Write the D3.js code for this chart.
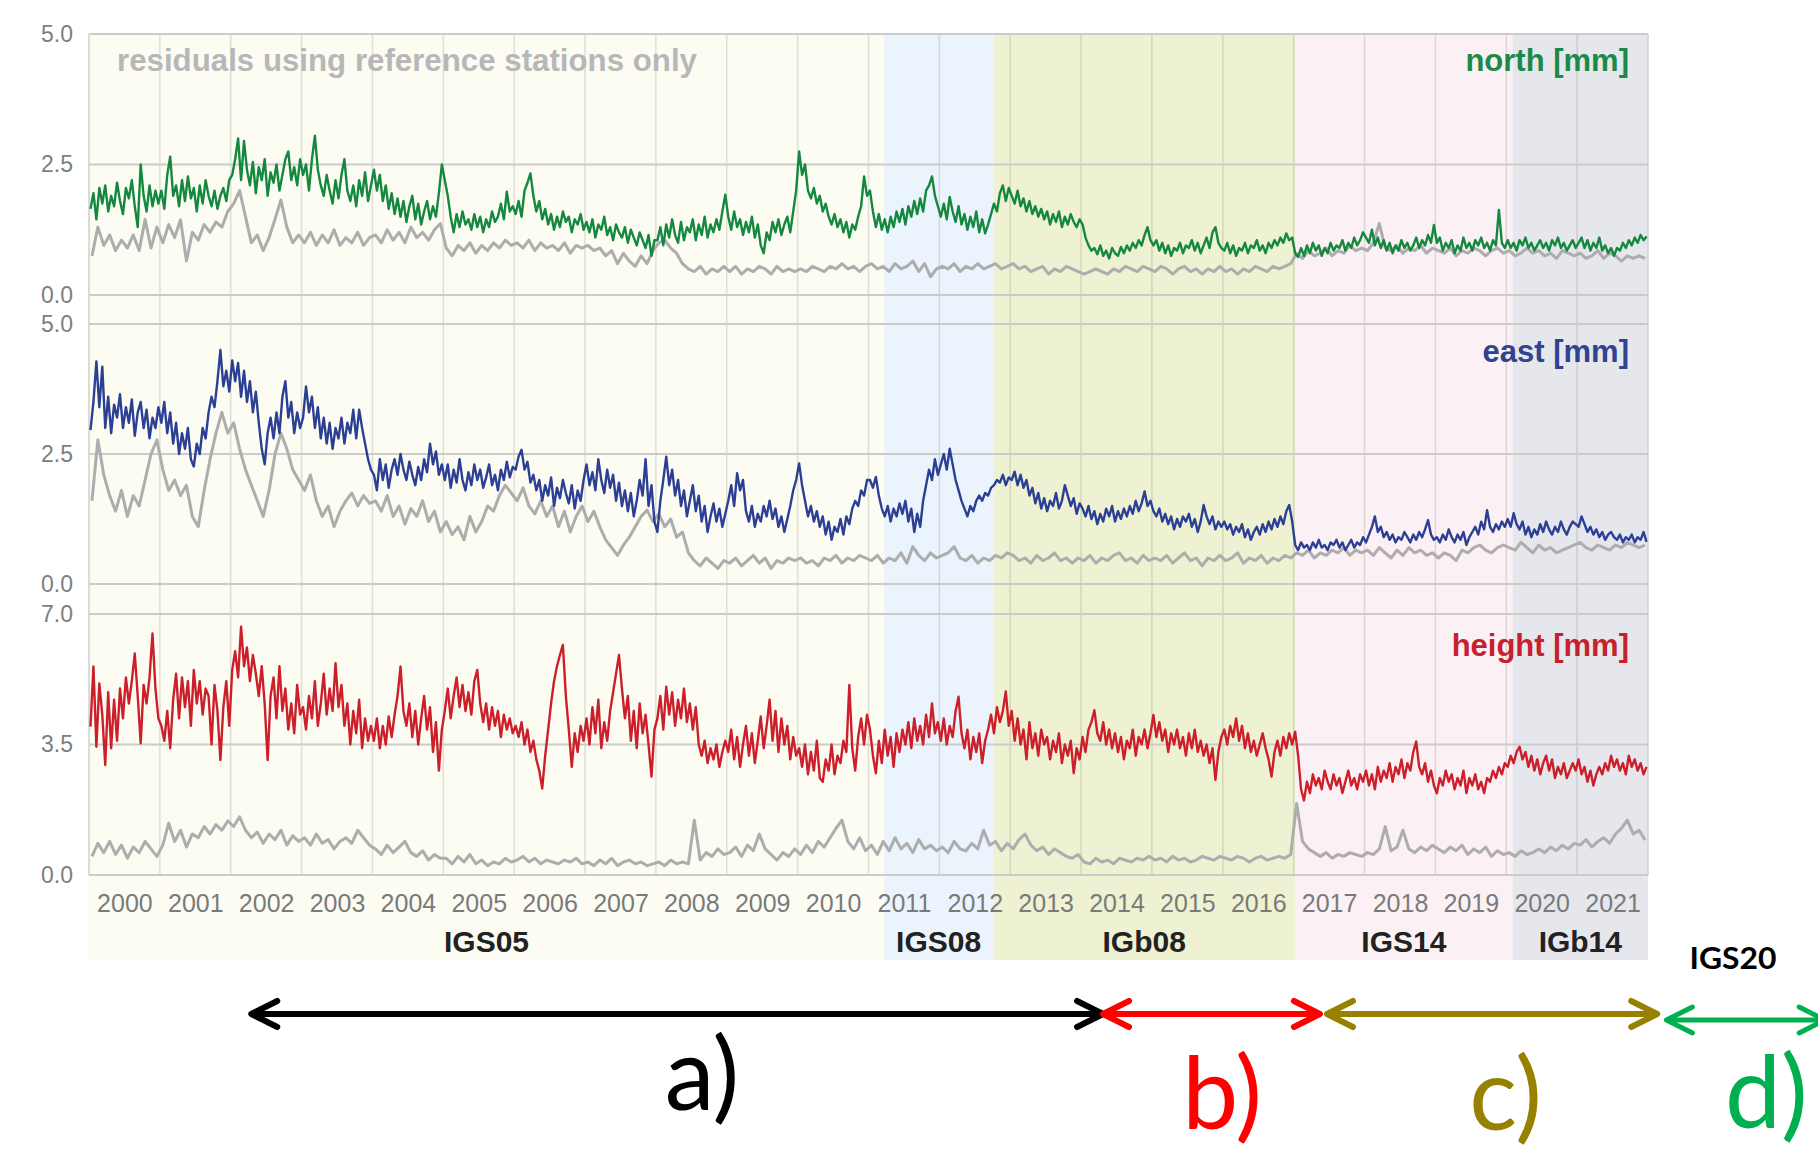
<!DOCTYPE html>
<html>
<head>
<meta charset="utf-8">
<script src="https://cdn.jsdelivr.net/npm/d3@7"></script>
<style>
  html, body { margin: 0; padding: 0; background: #ffffff; }
  svg { display: block; }
</style>
</head>
<body>
<svg id="chart" width="1818" height="1167"></svg>
<script>
// ---------------------------------------------------------------
// Weekly RMS residuals of the regional solution, 2000 – 2021,
// resampled: coloured series every half month, reference-only
// series (grey) every month. Values in mm.
// ---------------------------------------------------------------

const yearLabels = ["2000","2001","2002","2003","2004","2005","2006","2007","2008","2009","2010",
                    "2011","2012","2013","2014","2015","2016","2017","2018","2019","2020","2021"];

const frameNames = ["IGS05", "IGS08", "IGb08", "IGS14", "IGb14"];
const frameStart = [2000.00, 2011.22, 2012.76, 2017.02, 2020.09];
const frameEnd   = [2011.22, 2012.76, 2017.02, 2020.09, 2022.00];

const northTicks  = [0, 2.5, 5];
const eastTicks   = [0, 2.5, 5];
const heightTicks = [0, 3.5, 7];

// north, all stations (24 per year)
const northAll = [
  1.65,1.95,1.45,2.05,1.75,2.1,1.6,1.9,1.7,2.15,1.8,1.55,2.05,1.85,2.2,1.7,1.3,2.5,1.9,1.6,2.1,1.7,2.0,1.75,
  2.0,1.65,2.3,2.65,1.9,2.1,1.7,2.2,1.8,2.27,1.85,2.05,1.6,2.1,1.75,2.2,1.9,1.7,2.0,1.65,1.9,2.05,1.8,2.2,
  2.3,2.6,3.0,2.2,2.95,2.4,2.1,2.55,1.95,2.45,2.2,2.6,1.9,2.35,2.15,2.5,2.0,2.3,2.6,2.75,2.2,2.45,2.1,2.6,
  2.3,2.5,2.0,2.6,3.05,2.4,2.1,1.9,2.3,2.0,1.75,2.2,1.85,2.3,2.6,2.0,1.8,2.1,1.7,2.2,1.9,2.35,1.8,2.1,
  2.4,2.0,2.3,1.8,2.1,1.65,1.95,1.55,1.85,1.5,1.8,1.4,1.7,1.9,1.45,1.75,1.35,1.6,1.8,1.45,1.7,1.5,1.95,2.5,
  2.2,1.9,1.5,1.2,1.55,1.3,1.6,1.35,1.45,1.25,1.55,1.3,1.5,1.2,1.45,1.3,1.6,1.4,1.5,1.75,1.45,1.98,1.6,1.7,
  1.55,1.8,1.5,2.0,2.15,2.33,1.9,1.6,1.8,1.45,1.65,1.35,1.55,1.25,1.5,1.3,1.6,1.4,1.5,1.2,1.45,1.35,1.55,1.25,
  1.4,1.2,1.45,1.1,1.35,1.25,1.5,1.15,1.3,1.05,1.35,1.2,1.1,1.3,1.0,1.25,1.1,0.95,1.2,1.05,0.9,1.15,0.75,1.05,
  1.05,1.3,0.95,1.35,1.1,1.45,1.15,1.0,1.4,1.05,1.3,1.2,1.45,1.05,1.35,1.15,1.5,1.1,1.35,1.2,1.45,1.25,1.6,1.92,
  1.5,1.25,1.6,1.3,1.45,1.15,1.4,1.2,1.5,1.1,1.35,0.95,0.8,1.2,1.05,1.4,1.2,1.45,1.15,1.35,1.5,1.2,1.6,2.0,
  2.75,2.3,2.5,2.0,1.85,2.05,1.75,1.9,1.6,1.75,1.5,1.35,1.55,1.3,1.45,1.2,1.4,1.1,1.35,1.25,1.5,1.7,2.27,1.9,
  2.0,1.6,1.3,1.55,1.25,1.45,1.2,1.5,1.3,1.6,1.4,1.65,1.35,1.7,1.5,1.8,1.55,1.85,1.6,2.0,2.1,2.27,1.9,1.7,
  1.5,1.75,1.45,1.88,1.6,1.4,1.7,1.35,1.55,1.25,1.5,1.3,1.6,1.2,1.45,1.18,1.35,1.55,1.75,1.6,1.95,2.1,1.8,2.05,
  1.9,1.75,2.0,1.7,1.85,1.6,1.8,1.55,1.7,1.5,1.65,1.45,1.6,1.35,1.55,1.4,1.6,1.3,1.5,1.35,1.55,1.4,1.3,1.45,
  1.35,1.1,0.95,0.85,0.9,0.78,0.95,0.75,0.85,0.7,0.9,0.8,0.75,0.92,0.8,0.95,0.85,1.0,0.9,1.05,0.95,1.15,1.3,1.05,
  0.95,1.05,0.85,1.0,0.8,0.95,0.75,0.9,0.85,1.0,0.8,0.95,0.9,1.05,0.85,1.0,0.8,0.95,1.1,0.9,1.2,1.3,1.0,0.9,
  0.85,1.0,0.8,0.95,0.75,0.9,0.85,1.0,0.8,0.95,0.9,1.05,0.85,0.95,0.8,1.0,0.9,1.05,0.95,1.1,1.0,1.18,1.05,1.1,
  0.8,0.73,0.9,0.75,0.95,0.8,1.0,0.85,0.95,0.75,0.9,0.8,1.0,0.85,0.95,0.9,1.05,0.85,1.0,0.9,1.1,0.95,1.05,1.2,
  1.1,1.0,1.25,0.95,1.1,0.9,1.05,0.85,1.0,0.8,0.95,0.85,1.05,0.9,1.0,0.85,0.95,1.1,0.9,1.05,0.95,1.15,1.0,1.34,
  1.0,1.1,0.85,1.0,0.9,1.05,0.8,0.95,0.85,1.1,0.9,1.0,0.85,1.05,0.95,1.1,0.9,1.0,0.85,1.05,0.95,1.63,1.0,0.9,
  1.05,0.9,1.0,0.85,1.05,0.95,1.1,0.9,1.0,0.85,0.95,1.05,0.9,1.0,0.85,1.05,0.95,1.1,0.9,1.0,0.85,0.95,1.05,0.9,
  1.0,1.1,0.9,1.05,0.85,1.0,0.9,1.1,0.85,0.95,0.8,0.9,0.75,0.9,0.85,1.0,0.9,1.05,0.95,1.1,1.0,1.15,1.05,1.12
];

// north, reference stations only (12 per year)
const northRef = [
  0.75,1.3,0.95,1.15,0.85,1.05,0.9,1.15,0.85,1.45,0.9,1.3,
  1.0,1.35,1.1,1.44,0.65,1.2,1.05,1.35,1.2,1.4,1.3,1.6,
  1.75,2.0,1.5,1.0,1.15,0.85,1.1,1.45,1.82,1.3,1.0,1.15,
  1.0,1.2,0.95,1.15,1.0,1.25,0.95,1.1,1.0,1.2,0.95,1.1,
  1.15,1.0,1.25,1.05,1.2,1.0,1.3,1.1,1.2,1.05,1.25,1.37,
  0.9,0.75,0.95,0.85,1.0,0.8,0.95,0.85,1.0,0.9,1.05,0.95,
  1.0,0.9,1.05,0.85,1.0,0.9,0.95,0.85,1.0,0.8,0.95,0.9,
  0.95,0.85,0.9,0.75,0.85,0.6,0.8,0.65,0.55,0.75,0.6,0.85,
  1.0,1.05,0.9,0.8,0.6,0.5,0.45,0.55,0.4,0.5,0.45,0.55,
  0.45,0.55,0.4,0.5,0.45,0.55,0.5,0.4,0.55,0.45,0.5,0.45,
  0.5,0.45,0.55,0.5,0.45,0.55,0.5,0.6,0.5,0.55,0.45,0.55,
  0.6,0.5,0.55,0.45,0.6,0.5,0.55,0.65,0.45,0.6,0.35,0.5,
  0.55,0.5,0.6,0.45,0.55,0.5,0.6,0.5,0.55,0.6,0.5,0.55,
  0.6,0.5,0.55,0.45,0.5,0.55,0.4,0.5,0.45,0.55,0.5,0.45,
  0.4,0.45,0.5,0.45,0.4,0.5,0.45,0.55,0.5,0.45,0.55,0.5,
  0.45,0.55,0.5,0.4,0.5,0.55,0.45,0.5,0.4,0.5,0.45,0.55,
  0.45,0.5,0.4,0.5,0.45,0.55,0.5,0.45,0.55,0.5,0.55,0.6,
  0.8,0.7,0.85,0.75,0.8,0.9,0.75,0.85,0.8,0.95,0.85,0.9,
  0.85,1.0,1.37,0.9,0.85,0.95,0.8,0.9,0.85,0.95,0.8,0.9,
  0.85,0.8,0.9,0.75,0.85,0.8,0.9,0.85,0.75,0.85,0.9,0.8,
  0.85,0.75,0.8,0.9,0.8,0.85,0.75,0.8,0.7,0.85,0.8,0.75,
  0.8,0.7,0.75,0.85,0.7,0.8,0.75,0.65,0.75,0.7,0.75,0.7
];

// east, all stations (24 per year)
const eastAll = [
  2.96,3.5,4.28,3.4,4.18,3.0,3.6,2.9,3.45,3.2,3.65,3.0,3.4,3.1,3.55,2.85,3.3,3.5,3.0,3.35,2.8,3.2,3.0,3.4,
  3.1,3.5,2.9,3.3,2.7,3.1,2.5,2.9,2.6,3.0,2.4,2.26,2.7,2.5,3.0,2.8,3.3,3.6,3.4,3.9,4.5,3.8,4.1,3.7,
  4.3,3.9,4.25,3.6,4.1,3.5,3.9,3.3,3.7,3.1,2.6,2.3,2.9,3.2,2.8,3.3,2.9,3.6,3.9,3.2,3.5,2.9,3.3,3.0,
  3.2,3.8,3.3,3.6,3.0,3.4,2.8,3.2,2.7,3.1,2.6,3.0,2.8,3.2,2.7,3.1,2.9,3.35,2.8,3.35,3.0,2.7,2.4,2.2,
  2.1,1.8,2.4,2.0,2.3,1.85,2.2,2.4,2.1,2.5,2.2,2.0,2.35,2.1,1.9,2.25,2.0,2.4,2.15,2.7,2.3,2.55,2.1,2.3,
  2.0,2.3,1.85,2.2,1.95,2.4,2.0,1.8,2.15,1.9,2.3,2.0,2.2,1.85,2.05,2.3,1.9,2.1,1.8,2.2,2.0,2.35,2.05,2.25,
  2.2,2.45,2.58,2.2,2.35,1.95,2.1,1.8,2.0,1.6,1.9,1.7,2.05,1.5,1.85,1.65,2.0,1.75,1.55,1.9,1.45,1.8,1.6,2.0,
  2.3,1.9,2.15,1.8,2.4,2.0,1.75,2.2,1.85,2.1,1.6,1.95,1.5,1.8,1.4,1.75,1.3,1.6,2.0,1.7,2.4,1.5,1.9,1.2,
  1.0,1.6,2.0,2.45,1.9,2.2,1.7,2.0,1.5,1.8,1.3,1.6,1.9,1.4,1.7,1.2,1.5,1.0,1.3,1.55,1.2,1.45,1.1,1.35,
  1.6,1.9,1.5,2.13,1.8,2.0,1.4,1.2,1.5,1.1,1.35,1.2,1.5,1.3,1.6,1.25,1.45,1.1,1.3,1.0,1.25,1.5,1.8,2.0,
  2.32,1.9,1.6,1.3,1.5,1.2,1.4,1.1,1.3,0.95,1.2,0.85,1.1,1.0,1.25,0.95,1.3,1.15,1.45,1.6,1.5,1.8,1.7,2.0,
  2.0,1.85,2.06,1.7,1.45,1.3,1.5,1.2,1.45,1.3,1.55,1.35,1.6,1.2,1.45,1.0,1.35,1.1,1.6,1.9,2.2,2.0,2.4,2.1,
  2.3,2.5,2.2,2.6,2.3,2.0,1.8,1.6,1.45,1.3,1.5,1.4,1.6,1.7,1.6,1.75,1.7,1.85,1.9,2.0,1.95,2.1,1.9,2.05,
  2.0,2.16,1.9,2.1,1.85,2.0,1.7,1.85,1.55,1.75,1.45,1.65,1.4,1.6,1.5,1.75,1.45,1.6,1.9,1.7,1.5,1.65,1.35,1.55,
  1.45,1.3,1.5,1.25,1.4,1.15,1.35,1.2,1.45,1.3,1.5,1.2,1.4,1.25,1.45,1.3,1.5,1.35,1.6,1.4,1.55,1.78,1.5,1.6,
  1.4,1.3,1.45,1.2,1.35,1.15,1.3,1.05,1.25,1.1,1.3,1.2,1.35,1.1,1.25,1.0,1.2,1.52,1.3,1.15,1.3,1.05,1.2,1.1,
  1.2,1.05,1.15,0.95,1.1,1.0,1.15,0.9,1.05,0.85,1.0,1.1,0.95,1.15,1.0,1.2,1.05,1.25,1.1,1.3,1.15,1.4,1.52,1.2,
  0.75,0.65,0.8,0.7,0.75,0.65,0.8,0.7,0.85,0.7,0.75,0.65,0.8,0.75,0.85,0.7,0.8,0.65,0.75,0.85,0.7,0.8,0.75,0.9,
  0.8,0.95,1.1,1.3,1.0,1.1,0.9,1.0,0.85,0.95,0.8,0.9,0.85,1.0,0.9,0.8,0.95,0.85,1.0,0.9,1.05,1.23,0.95,0.85,
  0.9,0.8,0.95,0.85,1.05,0.9,0.8,0.95,0.85,1.0,0.75,0.9,1.0,1.1,0.95,1.2,1.05,1.42,1.1,1.0,1.15,1.05,1.2,1.1,
  1.25,1.1,1.36,1.15,1.05,1.2,0.95,1.1,0.9,1.05,0.95,1.15,1.0,1.2,1.05,0.95,1.1,1.0,1.2,1.05,0.95,1.1,1.2,1.15,
  1.1,1.3,1.15,1.0,1.1,0.95,1.05,0.9,1.0,0.85,0.95,1.0,0.9,0.85,0.95,0.8,0.9,0.85,0.95,0.8,0.9,0.85,1.0,0.81
];

// east, reference stations only (12 per year)
const eastRef = [
  1.6,2.77,2.1,1.7,1.4,1.8,1.3,1.7,1.5,2.0,2.5,2.77,
  2.2,1.8,2.0,1.7,1.9,1.3,1.1,1.8,2.4,2.9,3.3,2.9,
  3.1,2.6,2.2,1.9,1.6,1.3,1.8,2.5,2.9,2.6,2.2,2.0,
  1.8,2.1,1.6,1.3,1.5,1.1,1.4,1.6,1.75,1.5,1.7,1.55,
  1.6,1.4,1.7,1.3,1.5,1.15,1.45,1.3,1.6,1.2,1.4,1.0,
  1.2,0.95,1.1,0.85,1.3,1.0,1.2,1.5,1.4,1.7,1.9,1.75,
  1.6,1.85,1.5,1.35,1.6,1.3,1.5,1.1,1.4,1.0,1.3,1.5,
  1.2,1.4,1.1,0.85,0.7,0.55,0.75,0.9,1.1,1.3,1.42,1.2,
  1.35,1.1,1.25,0.9,1.0,0.6,0.45,0.35,0.5,0.4,0.3,0.45,
  0.4,0.5,0.35,0.45,0.55,0.4,0.5,0.3,0.45,0.4,0.5,0.45,
  0.5,0.4,0.45,0.35,0.5,0.45,0.55,0.4,0.5,0.45,0.55,0.5,
  0.45,0.55,0.4,0.5,0.45,0.6,0.4,0.72,0.55,0.45,0.6,0.5,
  0.55,0.6,0.72,0.5,0.45,0.55,0.4,0.5,0.45,0.55,0.5,0.6,
  0.55,0.45,0.5,0.4,0.55,0.45,0.5,0.6,0.45,0.5,0.4,0.5,
  0.45,0.55,0.4,0.5,0.45,0.55,0.6,0.45,0.5,0.4,0.55,0.45,
  0.5,0.45,0.55,0.4,0.5,0.6,0.45,0.5,0.35,0.5,0.45,0.55,
  0.45,0.5,0.6,0.4,0.5,0.45,0.55,0.4,0.5,0.45,0.55,0.5,
  0.6,0.55,0.65,0.5,0.6,0.55,0.65,0.6,0.7,0.55,0.65,0.6,
  0.65,0.55,0.7,0.6,0.5,0.65,0.55,0.7,0.6,0.65,0.55,0.6,
  0.5,0.6,0.55,0.45,0.65,0.6,0.7,0.75,0.65,0.6,0.7,0.75,
  0.7,0.65,0.8,0.7,0.6,0.75,0.65,0.7,0.6,0.65,0.7,0.75,
  0.8,0.7,0.65,0.75,0.7,0.65,0.75,0.7,0.8,0.75,0.7,0.75
];

// height, all stations (24 per year)
const heightAll = [
  3.98,5.59,3.44,5.14,4.3,2.95,4.9,3.4,4.7,3.6,5.0,4.2,5.3,4.6,5.2,5.94,4.8,3.53,5.1,4.6,5.3,6.48,5.0,4.2,
  4.0,3.6,4.4,3.4,4.7,5.4,4.2,5.3,4.5,5.2,4.0,5.5,4.6,5.2,4.3,5.0,4.8,3.5,5.1,4.4,3.08,4.5,5.2,4.0,
  5.5,6.0,5.3,6.66,5.6,6.1,5.2,5.9,5.4,4.8,5.6,4.6,3.08,4.8,5.3,4.2,5.6,4.4,5.0,3.9,4.6,3.8,5.1,4.3,
  4.5,3.9,4.8,4.2,5.2,4.0,4.6,5.4,4.3,5.0,4.4,5.68,4.5,5.1,4.0,4.6,3.5,4.4,3.8,4.7,3.4,4.2,3.6,4.0,
  3.6,4.2,3.4,4.0,3.5,4.25,3.7,4.3,4.8,5.59,4.4,4.0,4.6,3.7,4.4,3.5,4.2,4.8,3.9,4.5,3.3,4.1,2.8,3.9,
  4.4,5.0,4.2,4.8,5.3,4.5,5.1,4.4,4.9,4.3,5.2,5.5,4.6,4.1,4.6,3.9,4.5,4.0,4.4,3.7,4.3,3.9,4.2,3.8,
  4.0,3.7,4.1,3.5,3.9,3.3,3.6,3.1,2.8,2.32,3.2,3.9,4.6,5.2,5.6,5.9,6.17,4.8,3.9,2.9,3.8,3.3,4.0,3.6,
  4.2,3.5,4.5,3.8,4.7,3.4,4.1,3.6,4.4,4.9,5.4,5.9,5.0,4.2,4.8,3.6,4.4,3.4,4.6,3.8,4.3,3.5,2.64,3.9,
  4.2,4.8,3.9,5.05,4.3,4.9,4.0,4.7,4.2,5.0,4.1,4.6,3.9,4.5,3.5,3.2,3.6,3.0,3.4,3.1,3.5,2.9,3.3,3.6,
  3.3,3.9,3.1,3.7,2.9,3.5,4.0,3.2,3.8,3.0,3.6,4.25,3.4,4.0,4.7,3.6,4.4,3.3,4.2,3.5,4.0,3.1,3.7,3.2,
  3.4,2.9,3.5,2.7,3.3,2.8,3.6,2.6,2.5,3.1,2.8,3.5,2.7,3.2,3.0,3.6,3.3,5.1,3.4,2.8,3.7,4.2,3.5,4.3,
  3.9,3.2,2.73,3.6,3.0,3.9,3.2,3.7,2.9,3.8,3.3,3.9,3.5,4.1,3.4,4.2,3.6,4.0,3.5,4.3,3.7,4.6,3.8,4.1,
  3.6,4.2,3.5,4.0,3.7,4.4,4.78,3.8,3.4,3.9,3.1,3.7,3.3,3.8,3.0,3.6,3.9,4.3,3.8,4.5,4.1,4.4,4.92,4.0,
  4.4,3.6,4.2,3.5,3.9,3.1,4.1,3.4,3.8,3.2,3.9,3.5,3.7,3.1,3.6,3.3,3.8,3.0,3.5,3.2,3.6,2.73,3.4,3.1,
  3.7,3.3,3.9,4.1,4.42,3.8,3.6,4.1,3.5,3.9,3.4,3.8,3.3,3.7,3.1,3.6,3.4,3.9,3.2,3.7,3.5,3.9,3.4,3.8,
  4.29,3.7,4.1,3.6,3.9,3.3,3.8,3.5,3.9,3.4,3.7,3.2,3.8,3.4,3.9,3.3,3.6,3.2,3.5,3.0,3.4,2.55,3.3,3.7,
  3.9,3.5,4.0,3.7,4.2,3.6,4.0,3.4,3.8,3.3,3.6,3.2,3.5,3.8,3.4,3.1,2.64,3.3,3.6,3.2,3.7,3.4,3.8,3.5,
  3.84,3.2,2.3,2.0,2.5,2.2,2.7,2.4,2.6,2.3,2.8,2.5,2.3,2.7,2.4,2.6,2.2,2.5,2.8,2.4,2.6,2.3,2.7,2.5,
  2.8,2.4,2.7,2.3,2.9,2.5,2.8,2.6,3.0,2.5,2.9,2.7,3.1,2.6,3.0,2.8,3.3,3.58,2.9,2.7,3.0,2.5,2.8,2.4,
  2.19,2.6,2.4,2.8,2.5,2.7,2.3,2.6,2.4,2.8,2.2,2.6,2.4,2.7,2.3,2.5,2.2,2.6,2.5,2.8,2.6,2.9,2.7,3.0,
  2.9,3.2,3.0,3.3,3.44,3.1,3.3,2.9,3.2,2.8,3.1,2.7,3.0,3.2,2.8,3.1,2.6,2.9,2.7,3.0,2.6,2.8,3.0,2.8,
  3.1,2.7,2.9,2.5,2.8,2.4,2.7,2.9,2.7,3.0,2.8,3.2,2.9,3.1,2.8,3.0,2.7,3.2,2.9,3.1,2.8,3.0,2.7,2.9
];

// height, reference stations only (12 per year)
const heightRef = [
  0.5,0.85,0.6,0.9,0.55,0.8,0.45,0.75,0.6,0.9,0.7,0.5,
  0.8,1.39,0.9,1.2,0.75,1.1,1.0,1.3,1.1,1.35,1.2,1.45,
  1.3,1.56,1.2,1.0,1.15,0.85,1.1,0.95,1.2,0.8,1.05,0.9,
  1.0,0.8,1.1,0.85,0.95,0.7,0.9,1.0,0.85,1.2,1.0,0.8,
  0.7,0.55,0.8,0.6,0.75,0.9,0.6,0.5,0.65,0.4,0.55,0.45,
  0.45,0.3,0.5,0.35,0.55,0.3,0.4,0.25,0.35,0.3,0.45,0.35,
  0.4,0.5,0.35,0.45,0.3,0.4,0.35,0.3,0.4,0.35,0.45,0.3,
  0.35,0.25,0.4,0.3,0.45,0.25,0.35,0.4,0.3,0.35,0.25,0.3,
  0.35,0.25,0.4,0.3,0.35,0.3,1.47,0.4,0.6,0.5,0.7,0.55,
  0.6,0.75,0.5,0.8,0.65,1.1,0.7,0.55,0.4,0.6,0.5,0.7,
  0.55,0.8,0.6,0.9,0.75,1.0,1.25,1.47,0.9,0.7,1.0,0.65,
  0.8,0.55,0.9,0.65,1.0,0.7,0.85,0.6,0.95,0.7,0.8,0.65,
  0.75,0.6,0.9,0.7,0.65,0.85,0.7,1.2,0.8,0.9,0.65,0.85,
  0.7,0.95,1.1,0.8,0.65,0.75,0.55,0.7,0.6,0.5,0.45,0.55,
  0.35,0.3,0.45,0.35,0.4,0.3,0.45,0.4,0.35,0.45,0.4,0.5,
  0.4,0.45,0.35,0.5,0.4,0.45,0.35,0.4,0.5,0.45,0.4,0.5,
  0.45,0.4,0.5,0.45,0.35,0.45,0.5,0.4,0.45,0.5,0.45,0.55,
  1.92,0.9,0.7,0.6,0.5,0.6,0.45,0.55,0.5,0.6,0.55,0.5,
  0.6,0.55,0.7,1.3,0.65,0.75,1.2,0.7,0.6,0.75,0.65,0.8,
  0.7,0.6,0.75,0.65,0.8,0.55,0.7,0.6,0.75,0.5,0.65,0.55,
  0.6,0.5,0.65,0.55,0.6,0.7,0.6,0.75,0.65,0.8,0.7,0.85,
  0.8,0.95,0.75,0.9,1.0,0.85,1.1,1.25,1.47,1.1,1.2,0.94
];

// realisation periods marked underneath the chart (decimal years)
const periodNames = ["a)", "b)", "c)", "d)"];
const periodFrom  = [2002.29, 2014.31, 2017.47, 2022.26];
const periodTo    = [2014.31, 2017.37, 2022.13, 2024.50];
const periodLabelAt = [2008.65, 2015.99, 2019.99, 2023.67];

// ---------------------------------------------------------------
// layout and styling
// ---------------------------------------------------------------
const svg = d3.select("#chart");
const CHART_FONT = "'Liberation Sans', Arial, Helvetica, sans-serif";
const NOTE_FONT = "Lato, 'Open Sans', sans-serif";

const plotLeft = 89, plotRight = 1648;
const x = d3.scaleLinear().domain([2000, 2022]).range([plotLeft, plotRight]);

const panels = [
  { name: "north [mm]",  all: northAll,  ref: northRef,  ticks: northTicks,  top: 34,  bottom: 295,
    color: "#14883f", labelColor: "#1b8a47", labelBase: 71 },
  { name: "east [mm]",   all: eastAll,   ref: eastRef,   ticks: eastTicks,   top: 324, bottom: 584,
    color: "#2b3f95", labelColor: "#2f4391", labelBase: 362 },
  { name: "height [mm]", all: heightAll, ref: heightRef, ticks: heightTicks, top: 614, bottom: 875,
    color: "#cc1f2a", labelColor: "#c7202d", labelBase: 656 }
];
panels.forEach(p => {
  p.y = d3.scaleLinear().domain([0, d3.max(p.ticks)]).range([p.bottom, p.top]);
});

const frameFill = ["#fcfcf3", "#ebf4fc", "#eef2d2", "#fbf0f3", "#e5e7ed"];
const bandTop = 33, bandBottom = 960;

// frame backgrounds
svg.append("g").selectAll("rect")
  .data(frameNames)
  .join("rect")
  .attr("x", (d, i) => x(frameStart[i]) - (i === 0 ? 2 : 0))
  .attr("y", bandTop)
  .attr("width", (d, i) => x(frameEnd[i]) - x(frameStart[i]) + (i === 0 ? 2 : 0))
  .attr("height", bandBottom - bandTop)
  .attr("fill", (d, i) => frameFill[i]);

// vertical year grid, running through all three panels
const gridYears = d3.range(2000, 2023);
svg.append("g").selectAll("line")
  .data(gridYears)
  .join("line")
  .attr("x1", d => x(d)).attr("x2", d => x(d))
  .attr("y1", panels[0].top).attr("y2", panels[2].bottom)
  .attr("stroke", d => (d === 2000 || d === 2022) ? "#d2d2d2" : "rgba(0,0,0,0.11)")
  .attr("stroke-width", 1.6);

// horizontal grid and value axis per panel
const lineFor = (series, perYear, y) => d3.line()
  .x((d, i) => x(2000 + (i + 0.5) / perYear))
  .y(d => y(d))
  .curve(d3.curveLinear)(series);

panels.forEach(p => {
  const g = svg.append("g");

  g.selectAll("line.h")
    .data(p.ticks)
    .join("line")
    .attr("class", "h")
    .attr("x1", plotLeft).attr("x2", plotRight)
    .attr("y1", d => p.y(d)).attr("y2", d => p.y(d))
    .attr("stroke", "#cbcbcb")
    .attr("stroke-width", 2.2);

  const ax = g.append("g")
    .attr("transform", `translate(${plotLeft},0)`)
    .call(d3.axisLeft(p.y).tickValues(p.ticks).tickFormat(d3.format(".1f")).tickSize(0).tickPadding(16));
  ax.select(".domain").remove();
  ax.selectAll("text")
    .attr("font-family", CHART_FONT)
    .attr("font-size", 23)
    .attr("fill", "#7e7e7e");

  // reference-only series beneath, all-station series on top
  g.append("path")
    .attr("d", lineFor(p.ref, 12, p.y))
    .attr("fill", "none")
    .attr("stroke", "#adadad")
    .attr("stroke-width", 3)
    .attr("stroke-linejoin", "round");

  g.append("path")
    .attr("d", lineFor(p.all, 24, p.y))
    .attr("fill", "none")
    .attr("stroke", p.color)
    .attr("stroke-width", 2.4)
    .attr("stroke-linejoin", "round");

  g.append("text")
    .attr("x", 1629).attr("y", p.labelBase)
    .attr("text-anchor", "end")
    .attr("font-family", CHART_FONT)
    .attr("font-weight", "bold")
    .attr("font-size", 31)
    .attr("fill", p.labelColor)
    .text(p.name);
});

svg.append("text")
  .attr("x", 117).attr("y", 71)
  .attr("font-family", CHART_FONT)
  .attr("font-weight", "bold")
  .attr("font-size", 31)
  .attr("fill", "#b7b7b7")
  .attr("textLength", 580)
  .attr("lengthAdjust", "spacingAndGlyphs")
  .text("residuals using reference stations only");

// year labels centred in each year
const yearAxis = svg.append("g")
  .attr("transform", `translate(0,${panels[2].bottom})`)
  .call(d3.axisBottom(x)
    .tickValues(yearLabels.map(s => +s + 0.5))
    .tickFormat((d, i) => yearLabels[i])
    .tickSize(0).tickPadding(19));
yearAxis.select(".domain").remove();
yearAxis.selectAll("text")
  .attr("font-family", CHART_FONT)
  .attr("font-size", 25)
  .attr("fill", "#7a7a7a");

// reference frame names
svg.append("g").selectAll("text")
  .data(frameNames)
  .join("text")
  .attr("x", (d, i) => x((frameStart[i] + frameEnd[i]) / 2))
  .attr("y", 952)
  .attr("text-anchor", "middle")
  .attr("font-family", CHART_FONT)
  .attr("font-weight", "bold")
  .attr("font-size", 30)
  .attr("fill", "#222")
  .text(d => d);

svg.append("text")
  .attr("x", 1733).attr("y", 969)
  .attr("text-anchor", "middle")
  .attr("font-family", NOTE_FONT)
  .attr("font-weight", "bold")
  .attr("font-size", 30)
  .attr("fill", "#000")
  .attr("textLength", 87)
  .attr("lengthAdjust", "spacingAndGlyphs")
  .text("IGS20");

// period arrows with open chevron heads
const periodColors = ["#000000", "#ff0000", "#968200", "#00b050"];
const periodArrowY = [1014, 1014, 1014, 1020];
const periodLabelBase = [1110, 1129, 1130, 1128];
const headLen = 26, headHalf = 13;

periodNames.forEach((name, i) => {
  const g = svg.append("g")
    .attr("stroke", periodColors[i])
    .attr("fill", "none")
    .attr("stroke-linecap", "round")
    .attr("stroke-linejoin", "round")
    .attr("stroke-width", i === 3 ? 5 : 6);
  const x0 = x(periodFrom[i]), x1 = x(periodTo[i]), yy = periodArrowY[i];
  g.append("line").attr("x1", x0 + 2).attr("x2", x1 - 2).attr("y1", yy).attr("y2", yy);
  g.append("path").attr("d", `M${x0 + headLen},${yy - headHalf}L${x0},${yy}L${x0 + headLen},${yy + headHalf}`);
  g.append("path").attr("d", `M${x1 - headLen},${yy - headHalf}L${x1},${yy}L${x1 - headLen},${yy + headHalf}`);

  svg.append("text")
    .attr("x", x(periodLabelAt[i]))
    .attr("y", periodLabelBase[i])
    .attr("text-anchor", "middle")
    .attr("font-family", NOTE_FONT)
    .attr("font-size", 100)
    .attr("fill", periodColors[i])
    .text(name);
});
</script>
</body>
</html>
